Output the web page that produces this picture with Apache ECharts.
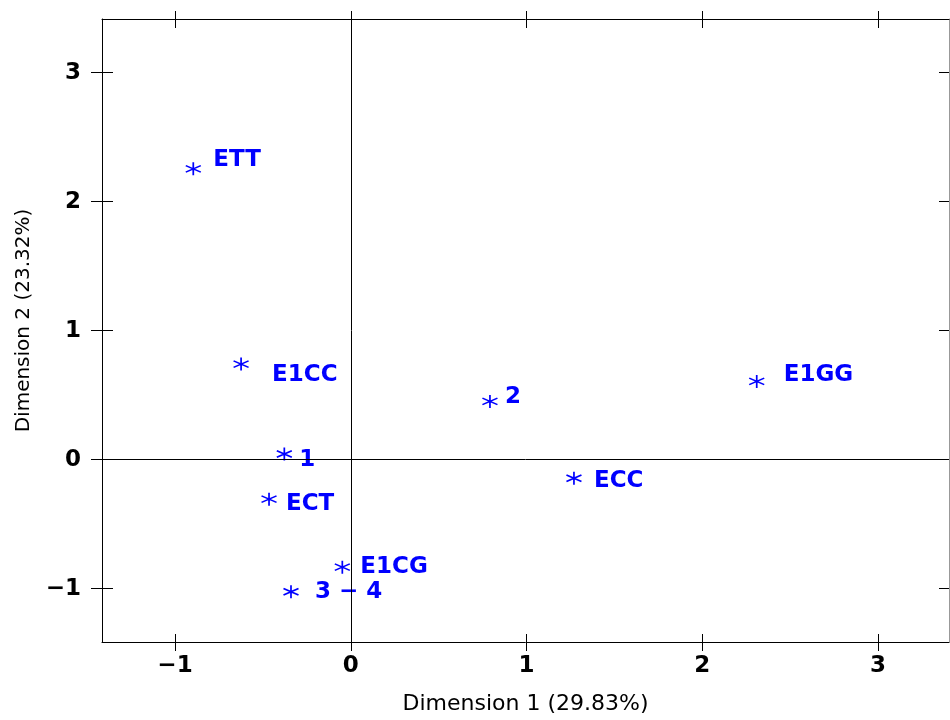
<!DOCTYPE html>
<html>
<head>
<meta charset="utf-8">
<script src="https://cdn.jsdelivr.net/npm/echarts@6/dist/echarts.min.js"></script>
<style>
  html, body { margin: 0; padding: 0; background: #fff; }
  #chart { width: 950px; height: 720px; }
</style>
</head>
<body>
<div id="chart"></div>
<script>
// Correspondence analysis: coordinates of the profile points on the first two dimensions
const labels = ['ETT', 'E1CC', '1', 'ECT', 'E1CG', '3 \u2212 4', '2', 'ECC', 'E1GG'];
const dim1 = [-0.896, -0.624, -0.378, -0.465, -0.048, -0.340, 0.792, 1.270, 2.310];
const dim2 = [2.255, 0.741, 0.044, -0.306, -0.833, -1.024, 0.452, -0.144, 0.607];
const xTicks = [-1, 0, 1, 2, 3];
const yTicks = [-1, 0, 1, 2, 3];
const xTitle = 'Dimension 1 (29.83%)';
const yTitle = 'Dimension 2 (23.32%)';

// Placement of each point label relative to its marker: [dx to text start, dy to text centre]
const labelOffsets = [[20, -9], [31, 11], [15, 6], [17, 5], [18, 0], [24, 0], [15, -4], [20, 3], [27, -6]];

const X_RANGE = [-1.4154, 3.404];
const Y_RANGE = [-1.4133, 3.4164];
const FONT = 'DejaVu Sans';
const BLUE = '#0000ff';

const minus = v => String(v).replace('-', '\u2212');

function xAxisDef(position, opts) {
  return Object.assign({
    type: 'value', position: position, min: X_RANGE[0], max: X_RANGE[1],
    splitLine: { show: false },
    axisLine: { show: false, onZero: false, lineStyle: { color: '#000', width: 1 } },
    axisTick: { show: true, customValues: xTicks, lineStyle: { color: '#000', width: 1 } },
    axisLabel: { show: false }
  }, opts);
}
function yAxisDef(position, opts) {
  return Object.assign({
    type: 'value', position: position, min: Y_RANGE[0], max: Y_RANGE[1],
    splitLine: { show: false },
    axisLine: { show: false, onZero: false, lineStyle: { color: '#000', width: 1 } },
    axisTick: { show: true, customValues: yTicks, lineStyle: { color: '#000', width: 1 } },
    axisLabel: { show: false }
  }, opts);
}

const tickLabel = (values, margin) => ({
  show: true, customValues: values, formatter: minus, margin: margin,
  fontFamily: FONT, fontWeight: 'bold', fontSize: 23, color: '#000'
});

const chart = echarts.init(document.getElementById('chart'), null, { renderer: 'canvas' });

chart.setOption({
  animation: false,
  backgroundColor: '#fff',
  grid: { left: 102, right: 1, top: 19, bottom: 77, containLabel: false },
  xAxis: [
    xAxisDef('bottom', {
      axisLine: { show: true, onZero: false, lineStyle: { color: '#000', width: 1 } },
      axisTick: { show: true, inside: false, length: 9, customValues: xTicks, lineStyle: { color: '#000', width: 1 } },
      axisLabel: tickLabel(xTicks, 13),
      name: xTitle, nameLocation: 'middle', nameGap: 51,
      nameTextStyle: { fontFamily: FONT, fontSize: 22, color: '#000' }
    }),
    xAxisDef('bottom', {
      axisTick: { show: true, inside: true, length: 8, customValues: xTicks, lineStyle: { color: '#000', width: 1 } }
    }),
    xAxisDef('top', {
      axisLine: { show: true, onZero: false, lineStyle: { color: '#000', width: 1 } },
      axisTick: { show: true, inside: false, length: 8, customValues: xTicks, lineStyle: { color: '#000', width: 1 } }
    }),
    xAxisDef('top', {
      axisTick: { show: true, inside: true, length: 9, customValues: xTicks, lineStyle: { color: '#000', width: 1 } }
    })
  ],
  yAxis: [
    yAxisDef('left', {
      axisLine: { show: true, onZero: false, lineStyle: { color: '#000', width: 1 } },
      axisTick: { show: true, inside: false, length: 11, customValues: yTicks, lineStyle: { color: '#000', width: 1 } },
      axisLabel: tickLabel(yTicks, 21),
      name: yTitle, nameLocation: 'middle', nameGap: 68,
      nameTextStyle: { fontFamily: FONT, fontSize: 20, color: '#000', padding: [0, 0, 0, 20] }
    }),
    yAxisDef('left', {
      axisTick: { show: true, inside: true, length: 11, customValues: yTicks, lineStyle: { color: '#000', width: 1 } }
    }),
    yAxisDef('right', {
      axisLine: { show: true, onZero: false, lineStyle: { color: '#999', width: 1 } },
      axisTick: { show: true, inside: true, length: 10, customValues: yTicks, lineStyle: { color: '#000', width: 1 } }
    })
  ],
  series: [{
    type: 'scatter',
    xAxisIndex: 0,
    yAxisIndex: 0,
    symbol: 'path://M7,0L7,13M0,3.25L14,9.75M0,9.75L14,3.25',
    symbolSize: [15, 13],
    itemStyle: { color: 'none', borderColor: BLUE, borderWidth: 1.6, opacity: 1 },
    label: {
      show: true, formatter: '{b}', position: 'inside', align: 'left', verticalAlign: 'middle',
      color: BLUE, fontFamily: FONT, fontWeight: 'bold', fontSize: 23
    },
    emphasis: { disabled: true },
    data: labels.map((name, i) => ({
      name: name,
      value: [dim1[i], dim2[i]],
      label: { offset: labelOffsets[i] }
    })),
    markLine: {
      silent: true,
      symbol: ['none', 'none'],
      label: { show: false },
      lineStyle: { color: '#000', width: 1, type: 'solid', opacity: 1 },
      emphasis: { disabled: true },
      data: [{ xAxis: 0 }, { yAxis: 0 }]
    }
  }]
});
</script>
</body>
</html>
